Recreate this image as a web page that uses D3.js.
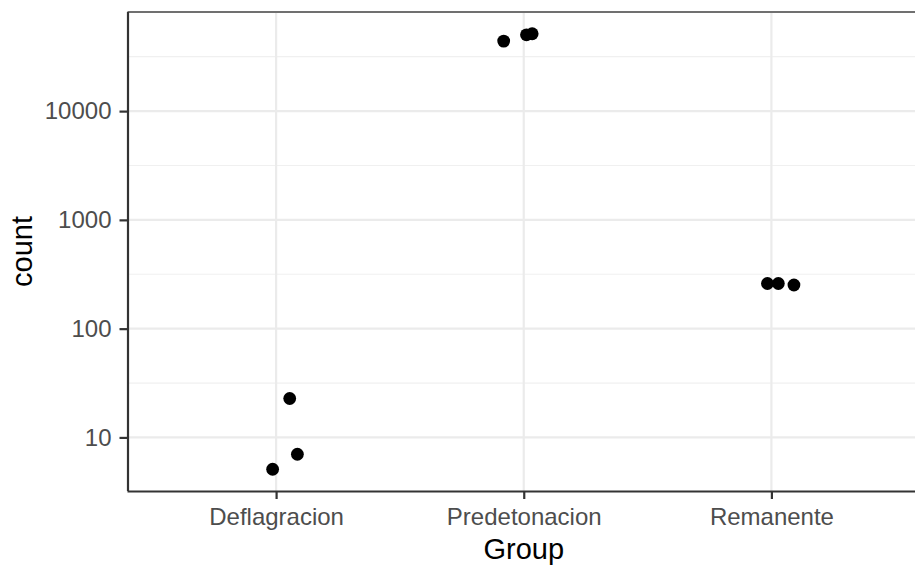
<!DOCTYPE html>
<html>
<head>
<meta charset="utf-8">
<script src="https://cdn.jsdelivr.net/npm/d3@7"></script>
<style>
  body { margin: 0; background: #fff; }
  svg { display: block; font-family: "Liberation Sans", Arial, sans-serif; }
</style>
</head>
<body>
<div id="chart"></div>
<script>
// categories on the x axis
const groups = ["Deflagracion", "Predetonacion", "Remanente"];
// one entry per point: group, count, horizontal jitter (in category units)
const pointGroup = ["Deflagracion", "Deflagracion", "Deflagracion",
  "Predetonacion", "Predetonacion", "Predetonacion",
  "Remanente", "Remanente", "Remanente"];
const pointCount = [22.8, 7.0, 5.1, 44000, 50300, 51400, 260, 260, 252];
const pointJitter = [0.055, 0.086, -0.014, -0.081, 0.011, 0.034, -0.016, 0.028, 0.091];
const yTicks = [10, 100, 1000, 10000];
const yMinor = [Math.pow(10, 0.5), Math.pow(10, 1.5), Math.pow(10, 2.5), Math.pow(10, 3.5), Math.pow(10, 4.5)];

const width = 915, height = 566;
const margin = { top: 12, right: -5, bottom: 75, left: 127.5 };
const panelBottom = height - margin.bottom;

const svg = d3.select("#chart")
  .append("svg")
  .attr("width", width)
  .attr("height", height);

// discrete x with ggplot's 0.6 expansion on each side
const xScale = d3.scalePoint()
  .domain(groups)
  .range([margin.left, width - margin.right])
  .padding(0.6);
const step = xScale.step();

// log y with 5% expansion of the data range
const logExtent = d3.extent(pointCount, (d) => Math.log10(d));
const pad = (logExtent[1] - logExtent[0]) * 0.05;
const yScale = d3.scaleLog()
  .domain([Math.pow(10, logExtent[0] - pad), Math.pow(10, logExtent[1] + pad)])
  .range([panelBottom, margin.top]);

const panel = svg.append("g").attr("class", "panel");

// minor grid
panel.selectAll(".minor")
  .data(yMinor.filter((d) => yScale(d) <= panelBottom && yScale(d) >= margin.top))
  .enter()
  .append("line")
  .attr("class", "minor")
  .attr("x1", margin.left)
  .attr("x2", width)
  .attr("y1", (d) => yScale(d))
  .attr("y2", (d) => yScale(d))
  .attr("stroke", "#f0f0f0")
  .attr("stroke-width", 1.2);

// major grid
panel.selectAll(".hmajor")
  .data(yTicks)
  .enter()
  .append("line")
  .attr("class", "hmajor")
  .attr("x1", margin.left)
  .attr("x2", width)
  .attr("y1", (d) => yScale(d))
  .attr("y2", (d) => yScale(d))
  .attr("stroke", "#ebebeb")
  .attr("stroke-width", 2.2);

panel.selectAll(".vmajor")
  .data(groups)
  .enter()
  .append("line")
  .attr("class", "vmajor")
  .attr("x1", (d) => xScale(d))
  .attr("x2", (d) => xScale(d))
  .attr("y1", margin.top)
  .attr("y2", panelBottom)
  .attr("stroke", "#ebebeb")
  .attr("stroke-width", 2.2);

// panel border (top)
panel.append("line")
  .attr("x1", margin.left)
  .attr("x2", width)
  .attr("y1", margin.top)
  .attr("y2", margin.top)
  .attr("stroke", "#707070")
  .attr("stroke-width", 2);

// points
const points = pointCount.map((d, i) => ({
  group: pointGroup[i],
  count: d,
  jitter: pointJitter[i],
}));

svg.append("g")
  .selectAll("circle")
  .data(points)
  .enter()
  .append("circle")
  .attr("cx", (d) => xScale(d.group) + d.jitter * step)
  .attr("cy", (d) => yScale(d.count))
  .attr("r", 6.4)
  .attr("fill", "#000");

// axes
const yAxis = svg.append("g")
  .attr("transform", `translate(${margin.left},0)`)
  .call(d3.axisLeft(yScale).tickValues(yTicks).tickFormat(d3.format("d")).tickSize(8).tickPadding(8));

const xAxis = svg.append("g")
  .attr("transform", `translate(0,${panelBottom})`)
  .call(d3.axisBottom(xScale).tickSize(8).tickPadding(9));

[xAxis, yAxis].forEach((ax) => {
  ax.select(".domain").attr("stroke", "#333333").attr("stroke-width", 2.2);
  ax.selectAll(".tick line").attr("stroke", "#333333").attr("stroke-width", 2.2);
  ax.selectAll(".tick text")
    .attr("fill", "#4d4d4d")
    .style("font-size", "24px")
    .style("font-family", "Liberation Sans, Arial, sans-serif");
});
xAxis.select(".domain").attr("d", `M${margin.left},0.5H${width}`);
yAxis.select(".domain").attr("d", `M0.5,${margin.top}V${panelBottom}`);

// axis titles
svg.append("text")
  .attr("x", xScale("Predetonacion"))
  .attr("y", 559)
  .attr("text-anchor", "middle")
  .style("font-size", "29px")
  .attr("fill", "#000")
  .text("Group");

svg.append("text")
  .attr("transform", `translate(32,${(margin.top + panelBottom) / 2}) rotate(-90)`)
  .attr("text-anchor", "middle")
  .style("font-size", "29px")
  .attr("fill", "#000")
  .text("count");
</script>
</body>
</html>
